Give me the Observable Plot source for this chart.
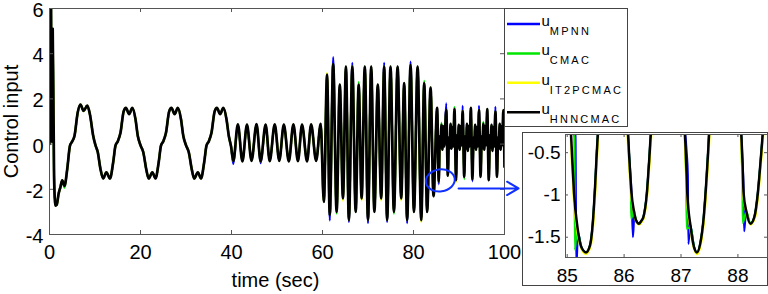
<!DOCTYPE html>
<html>
<head>
<meta charset="utf-8">
<script src="https://cdn.jsdelivr.net/npm/d3@7"></script>
<script src="https://cdn.jsdelivr.net/npm/@observablehq/plot@0.6"></script>
<style>
  html, body { margin: 0; padding: 0; background: #fff; }
  #wrap { position: relative; width: 768px; height: 294px; overflow: hidden; font-family: "Liberation Sans", Arial, sans-serif; }
  #main { position: absolute; left: 0; top: 0; }
  #legend { position: absolute; left: 504px; top: 8px; }
  #inset { position: absolute; left: 522px; top: 132px; }
  #inset svg, #main svg, #legend svg { display: block; }
</style>
</head>
<body>
<div id="wrap"><div id="main"></div><div id="legend"></div><div id="inset"></div></div>
<script>
// ---------- names, colours, ticks ----------
const seriesNames = ["MPNN", "CMAC", "IT2PCMAC", "HNNCMAC"];
const seriesColors = ["#0000ff", "#00e600", "#ffff00", "#000000"];
const xTicks = [0, 20, 40, 60, 80, 100];
const yTicks = [-4, -2, 0, 2, 4, 6];
const xLabel = "time (sec)";
const yLabel = "Control input";
const insetXTicks = [85, 86, 87, 88];
const insetYTicks = [-1.5, -1, -0.5];

// ---------- main chart: u_HNNCMAC, [time, value] ----------
const hnnSeg1 = [[0,0],[0.1,7.2],[0.3,6.8],[0.5,0.1],[0.7,5.1],[1.0,-1.4],[1.3,-2.72],[1.6,-2.68],[2.0,-2.2],[2.4,-1.9],[2.8,-1.6],[3.3,-1.85],[3.9,-1.1],[4.5,-0.07],[5.0,0.12],[5.5,0.37],[6.2,1.4],[6.8,1.75],[7.5,1.47],[8.3,1.7],[8.9,1.3],[9.6,0.37],[10.1,-0.05],[10.6,-0.35],[11.2,-1.1],[11.8,-1.52],[12.5,-1.25],[13.3,-1.52],[14.0,-0.8],[14.5,-0.07],[15.0,0.12],[15.6,0.5],[16.3,1.45],[16.8,1.6],[17.5,1.33],[18.2,1.6],[18.9,1.1],[19.4,0.37],[20.0,-0.05],[20.6,-0.35],[21.3,-1.15],[21.8,-1.52],[22.6,-1.25],[23.3,-1.52],[24.0,-0.8],[24.5,-0.07],[25.0,0.12],[25.6,0.5],[26.3,1.45],[26.8,1.6],[27.5,1.33],[28.2,1.6],[28.9,1.1],[29.4,0.37],[30.0,-0.05],[30.6,-0.35],[31.3,-1.15],[31.8,-1.52],[32.6,-1.25],[33.3,-1.52],[34.0,-0.8],[34.5,-0.07],[35.0,0.12],[35.6,0.5],[36.3,1.45],[36.8,1.6],[37.5,1.33],[38.2,1.6],[38.9,1.1],[39.4,0.37],[39.9,-0.1]];
const hnnSeg2 = [[40.4,-0.75],[41.4,0.87],[42.4,-0.76],[43.4,0.86],[44.4,-0.74],[45.5,0.88],[46.4,-0.76],[47.5,0.86],[48.4,-0.75],[49.5,0.87],[50.5,-0.74],[51.5,0.86],[52.6,-0.76],[53.6,0.87],[54.6,-0.75],[55.5,0.86],[56.6,-0.76],[57.5,0.87],[58.6,-0.74],[59.6,0.9]];
const hnnSeg3 = [[60.3,-2.56],[61.0,3.07],[61.6,-3.14],[62.35,3.55],[63.1,-3.0],[63.8,2.63],[64.5,-2.4],[65.15,3.43],[65.8,-3.36],[66.55,3.43],[67.3,-3.0],[67.95,2.63],[68.6,-2.4],[69.3,3.43],[70.0,-3.36],[70.7,3.43],[71.4,-3.0],[72.15,2.63],[72.9,-2.4],[73.55,3.43],[74.2,-3.36],[74.95,3.43],[75.7,-3.0],[76.5,3.43],[77.3,-2.4],[77.95,2.7],[78.6,-3.36],[79.35,3.5],[80.1,-3.0],[80.9,3.43],[81.7,-3.36],[82.35,2.7],[83.0,-3.0],[83.75,2.5],[84.4,-2.3]];
const hnnSeg4 = [[85.2,1.6],[85.55,-1.65],[85.8,0.35],[85.95,-0.15],[86.15,0.85],[86.35,-0.25],[86.55,0.8],[86.75,-0.1],
  [87.2,1.5],[87.55,-1.4],[87.8,0.3],[87.95,-0.2],[88.15,0.9],[88.35,-0.2],[88.55,0.75],[88.75,-0.1],
  [89.0,1.55],[89.35,-1.6],[89.6,0.4],[89.75,-0.15],[89.95,0.85],[90.15,-0.25],[90.35,0.8],[90.55,-0.05],
  [90.8,1.45],[91.15,-1.45],[91.4,0.35],[91.55,-0.2],[91.75,0.9],[91.95,-0.3],[92.15,0.8],[92.35,-0.1],
  [92.6,1.6],[92.95,-1.55],[93.2,0.3],[93.35,-0.15],[93.55,0.85],[93.75,-0.25],[93.95,0.75],[94.15,-0.1],
  [94.4,1.5],[94.75,-1.45],[95.0,0.35],[95.15,-0.2],[95.35,0.9],[95.55,-0.25],[95.75,0.8],[95.95,-0.05],
  [96.2,1.55],[96.55,-1.6],[96.8,0.4],[96.95,-0.15],[97.15,0.85],[97.35,-0.3],[97.55,0.75],[97.75,-0.1],
  [98.0,1.45],[98.35,-1.45],[98.6,0.3],[98.75,-0.2],[98.95,0.9],[99.15,-0.25],[99.35,0.8],[99.5,-0.05],
  [99.75,1.5],[100.0,-1.0]];

// points where the other controllers leave the black curve (overshoots), [time, value]
const spikesMPNN = [[40.4,-0.88],[46.4,-0.85],[61.6,-3.38],[62.35,3.85],[65.8,-3.45],[66.55,3.6],[70.0,-3.5],[73.55,3.6],[74.2,-3.45],[78.6,-3.5],[79.35,3.65],[85.55,-1.78],[87.2,1.8],[90.8,1.7],[92.95,-1.65],[94.4,1.7],[98.0,1.65]];
const spikesCMAC = [[3.3,-1.93],[63.1,-3.08],[67.95,2.75],[75.7,-3.08],[82.35,2.8],[86.15,0.95],[89.0,1.65],[91.15,-1.55],[95.35,1.0]];
const spikesIT2PCMAC = [[61.0,3.15],[64.5,-2.5],[68.6,-2.5],[72.9,-2.5],[77.3,-2.5],[81.7,-3.45],[89.35,-1.68]];

// zoom annotation (ellipse centre, arrow ends) in data units
const zoomSpot = [{t: 86.0, v: -1.63}];
const zoomArrow = [{t1: 89.9, t2: 103.1, v: -1.96}];

// ---------- inset (85 - 88.5 s), [time, value] ----------
const insetHNNCMAC = [[84.95,0.3],[85.06,-0.2],[85.09,-0.6],[85.12,-0.98],[85.18,-1.38],[85.25,-1.62],[85.33,-1.68],[85.40,-1.6],[85.45,-1.33],[85.49,-0.9],[85.52,-0.5],[85.56,-0.1],[85.8,0.5],[86.06,-0.2],[86.09,-0.55],[86.13,-0.98],[86.17,-1.18],[86.21,-1.3],[86.26,-1.34],[86.30,-1.31],[86.34,-1.26],[86.40,-0.98],[86.44,-0.6],[86.48,-0.2],[86.75,0.5],[87.06,-0.2],[87.09,-0.6],[87.11,-0.98],[87.17,-1.38],[87.23,-1.62],[87.28,-1.68],[87.34,-1.57],[87.40,-1.26],[87.45,-0.79],[87.48,-0.45],[87.51,-0.1],[87.8,0.5],[88.05,-0.2],[88.08,-0.6],[88.10,-0.98],[88.15,-1.2],[88.22,-1.34],[88.29,-1.26],[88.35,-0.98],[88.40,-0.59],[88.44,-0.25],[88.47,0.0],[88.6,0.5]];
const insetMPNN = [[84.95,0.3],[85.1,-0.2],[85.145,-0.3],[85.16,-1.85],[85.19,-1.45],[85.25,-1.62],[85.33,-1.68],[85.40,-1.6],[85.45,-1.33],[85.49,-0.9],[85.52,-0.5],[85.56,-0.1],[85.8,0.5],[86.06,-0.2],[86.09,-0.55],[86.13,-0.98],[86.155,-1.5],[86.18,-1.24],[86.21,-1.3],[86.26,-1.34],[86.30,-1.31],[86.34,-1.26],[86.40,-0.98],[86.44,-0.6],[86.48,-0.2],[86.75,0.5],[87.06,-0.2],[87.1,-0.5],[87.12,-0.76],[87.13,-1.58],[87.16,-1.35],[87.23,-1.62],[87.28,-1.68],[87.34,-1.57],[87.40,-1.26],[87.45,-0.79],[87.48,-0.45],[87.51,-0.1],[87.8,0.5],[88.05,-0.2],[88.08,-0.6],[88.10,-0.98],[88.11,-1.43],[88.14,-1.22],[88.22,-1.34],[88.29,-1.26],[88.35,-0.98],[88.40,-0.59],[88.44,-0.25],[88.47,0.0],[88.6,0.5]];
const insetCMAC = [[84.95,0.3],[85.08,-0.2],[85.125,-0.32],[85.135,-1.65],[85.17,-1.4],[85.25,-1.62],[85.33,-1.68],[85.40,-1.6],[85.45,-1.33],[85.49,-0.9],[85.52,-0.5],[85.56,-0.1],[85.8,0.5],[86.06,-0.2],[86.1,-0.7],[86.12,-0.97],[86.125,-1.28],[86.17,-1.18],[86.21,-1.3],[86.26,-1.34],[86.30,-1.31],[86.34,-1.26],[86.40,-0.98],[86.44,-0.6],[86.48,-0.2],[86.75,0.5],[87.06,-0.2],[87.08,-0.6],[87.09,-0.76],[87.1,-1.4],[87.17,-1.38],[87.23,-1.62],[87.28,-1.68],[87.34,-1.57],[87.40,-1.26],[87.45,-0.79],[87.48,-0.45],[87.51,-0.1],[87.8,0.5],[88.05,-0.2],[88.07,-0.6],[88.08,-0.85],[88.085,-1.33],[88.15,-1.2],[88.22,-1.34],[88.29,-1.26],[88.35,-0.98],[88.40,-0.59],[88.44,-0.25],[88.47,0.0],[88.6,0.5]];
const insetIT2PCMAC = [[84.95,0.3],[85.05,-0.2],[85.08,-0.6],[85.11,-1.0],[85.17,-1.4],[85.25,-1.64],[85.33,-1.7],[85.41,-1.61],[85.46,-1.33],[85.5,-0.9],[85.53,-0.5],[85.57,-0.1],[85.8,0.5],[86.05,-0.2],[86.08,-0.55],[86.12,-0.98],[86.17,-1.19],[86.21,-1.31],[86.26,-1.35],[86.31,-1.32],[86.35,-1.26],[86.41,-0.98],[86.45,-0.6],[86.49,-0.2],[86.75,0.5],[87.05,-0.2],[87.08,-0.6],[87.1,-0.98],[87.16,-1.39],[87.23,-1.64],[87.28,-1.7],[87.35,-1.58],[87.41,-1.26],[87.46,-0.79],[87.49,-0.45],[87.52,-0.1],[87.8,0.5],[88.04,-0.2],[88.07,-0.6],[88.09,-0.98],[88.15,-1.21],[88.22,-1.35],[88.3,-1.27],[88.36,-0.98],[88.41,-0.59],[88.45,-0.25],[88.48,0.0],[88.6,0.5]];

// ---------- build tables ----------
const FONT = "Liberation Sans, Arial, sans-serif";
const hnnBase = [...hnnSeg1, ...hnnSeg2, ...hnnSeg3, ...hnnSeg4];
function withSpikes(base, spikes) {
  const m = new Map(base.map(([t, v]) => [t, v]));
  for (const [t, v] of spikes) m.set(t, v);
  return Array.from(m, ([t, v]) => ({t, v})).sort((a, b) => a.t - b.t);
}
const toRows = (pairs) => pairs.map(([t, v]) => ({t, v}));
const mainSeries = [
  withSpikes(hnnBase, spikesMPNN),
  withSpikes(hnnBase, spikesCMAC),
  withSpikes(hnnBase, spikesIT2PCMAC),
  toRows(hnnBase)
];
const insetSeries = [insetMPNN, insetCMAC, insetIT2PCMAC, insetHNNCMAC].map(toRows);
const lineWidths = [2.1, 2.1, 2.2, 2.7];

function ellipseMark(data, {rx, ry, stroke, strokeWidth}) {
  return (index, scales) => {
    const g = d3.create("svg:g");
    for (const d of data) {
      const cx = scales.x(d.t), cy = scales.y(d.v);
      g.append("ellipse")
        .attr("cx", cx).attr("cy", cy).attr("rx", rx).attr("ry", ry)
        .attr("transform", `rotate(-8 ${cx} ${cy})`)
        .attr("fill", "none").attr("stroke", stroke).attr("stroke-width", strokeWidth);
    }
    return g.node();
  };
}
function outerBox({stroke}) {
  return (index, scales, values, dims) => {
    return d3.create("svg:rect")
      .attr("x", 0.5).attr("y", 0.5)
      .attr("width", dims.width - 1).attr("height", 153)
      .attr("fill", "none").attr("stroke", stroke).node();
  };
}

// ---------- main plot ----------
const W = 768, H = 294, ML = 49, MR = 264, MT = 8, MB = 60;
const fw = W - ML - MR, fh = H - MT - MB;
const mainPlot = Plot.plot({
  width: W, height: H,
  marginLeft: ML, marginRight: MR, marginTop: MT, marginBottom: MB,
  style: {fontFamily: FONT, background: "transparent", color: "#000", overflow: "visible"},
  x: {domain: [0, 100]},
  y: {domain: [-4, 6]},
  marks: [
    ...mainSeries.map((s, i) => Plot.line(s, {x: "t", y: "v", stroke: seriesColors[i], strokeWidth: lineWidths[i], curve: "monotone-x", clip: true})),
    Plot.frame({stroke: "#555"}),
    Plot.tickX(xTicks, {x: d => d, insetTop: fh - 4, stroke: "#555"}),
    Plot.tickX(xTicks, {x: d => d, insetBottom: fh - 4, stroke: "#555"}),
    Plot.tickY(yTicks, {y: d => d, insetRight: fw - 4, stroke: "#555"}),
    Plot.tickY(yTicks, {y: d => d, insetLeft: fw - 4, stroke: "#555"}),
    Plot.axisX({ticks: xTicks, tickSize: 0, tickPadding: 10.5, fontSize: 20, tickFormat: d => String(d), label: null}),
    Plot.axisY({ticks: yTicks, tickSize: 0, tickPadding: 6, fontSize: 20, dy: 2, tickFormat: d => String(d), label: null}),
    Plot.text([xLabel], {frameAnchor: "bottom", text: d => d, textAnchor: "middle", lineAnchor: "middle", dy: 46.5, dx: -1.5, fontSize: 20}),
    Plot.text([yLabel], {frameAnchor: "left", text: d => d, textAnchor: "middle", lineAnchor: "middle", rotate: -90, dx: -38, fontSize: 20}),
    ellipseMark(zoomSpot, {rx: 14.5, ry: 11, stroke: "#1030ff", strokeWidth: 2}),
    Plot.arrow(zoomArrow, {x1: "t1", x2: "t2", y1: "v", y2: "v", stroke: "#1030ff", strokeWidth: 2, headLength: 10})
  ]
});
document.getElementById("main").appendChild(mainPlot);

// ---------- legend ----------
const leg = d3.select("#legend").append("svg").attr("width", 125).attr("height", 120)
  .style("font-family", FONT);
leg.append("rect").attr("x", 0.5).attr("y", 0.5).attr("width", 123).attr("height", 118)
  .attr("fill", "#fff").attr("stroke", "#444");
seriesNames.forEach((name, i) => {
  const y = 16 + i * 29.4;
  leg.append("line").attr("x1", 3).attr("x2", 36).attr("y1", y).attr("y2", y)
    .attr("stroke", seriesColors[i]).attr("stroke-width", 2.5);
  const t = leg.append("text").attr("x", 37.5).attr("y", y + 2).attr("font-size", 15).attr("fill", "#000");
  t.append("tspan").text("u");
  t.append("tspan").attr("dy", 9).attr("font-size", 11).attr("letter-spacing", 2.2).text(name);
});

// ---------- inset ----------
const IW = 246, IH = 160, IML = 43, IMR = 1, IMT = 2, IMB = 35;
const ifw = IW - IML - IMR, ifh = IH - IMT - IMB;
const insetPlot = Plot.plot({
  width: IW, height: IH,
  marginLeft: IML, marginRight: IMR, marginTop: IMT, marginBottom: IMB,
  style: {fontFamily: FONT, background: "transparent", color: "#000", overflow: "visible"},
  x: {domain: [84.97, 88.52]},
  y: {domain: [-1.74, -0.285]},
  marks: [
    outerBox({stroke: "#444"}),
    ...insetSeries.map((s, i) => Plot.line(s, {x: "t", y: "v", stroke: seriesColors[i], strokeWidth: i === 3 ? 2.5 : (i === 2 ? 2.2 : 2.1), curve: "monotone-x", clip: true})),
    Plot.frame({stroke: "#555"}),
    Plot.tickX(insetXTicks, {x: d => d, insetTop: ifh - 3, stroke: "#555"}),
    Plot.tickX(insetXTicks, {x: d => d, insetBottom: ifh - 3, stroke: "#555"}),
    Plot.tickY(insetYTicks, {y: d => d, insetRight: ifw - 3, stroke: "#555"}),
    Plot.tickY(insetYTicks, {y: d => d, insetLeft: ifw - 3, stroke: "#555"}),
    Plot.axisX({ticks: insetXTicks, tickSize: 0, tickPadding: 11, fontSize: 19, tickFormat: d => String(d), label: null}),
    Plot.axisY({ticks: insetYTicks, tickSize: 0, tickPadding: 5, fontSize: 19, tickFormat: d => String(d), label: null})
  ]
});
document.getElementById("inset").appendChild(insetPlot);
</script>
</body>
</html>
